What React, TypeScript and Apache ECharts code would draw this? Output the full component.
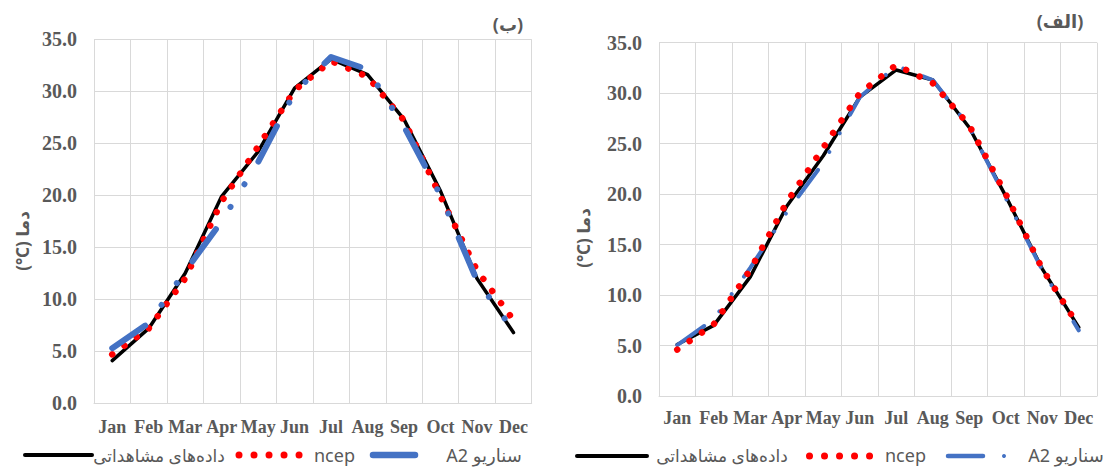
import React, { useEffect, useRef } from 'react';
import * as echarts from 'echarts';

// ---- data ----
const months = ['Jan', 'Feb', 'Mar', 'Apr', 'May', 'Jun', 'Jul', 'Aug', 'Sep', 'Oct', 'Nov', 'Dec'];

// chart (ب) – left
const obsB = [4.1, 7.2, 12.5, 19.9, 24.2, 30.3, 33.1, 31.6, 27.3, 20.4, 12.0, 6.8];
const ncepB = [4.7, 7.2, 12.0, 19.4, 24.7, 30.1, 32.9, 31.4, 27.2, 19.9, 12.8, 8.0];
const a2B = [5.3, 7.7, 12.7, 17.5, 23.2, 29.9, 33.3, 32.1, 26.6, 20.0, 11.8, 7.0];

// chart (الف) – right
const obsA = [5.1, 7.0, 11.8, 18.8, 23.8, 29.6, 32.3, 31.3, 26.6, 19.8, 12.6, 6.8];
const ncepA = [4.6, 7.1, 12.5, 19.2, 24.6, 30.0, 32.8, 31.0, 26.8, 20.0, 12.6, 6.9];
const a2A = [5.05, 7.6, 12.7, 18.2, 23.1, 29.6, 32.7, 31.3, 26.7, 19.6, 12.5, 6.5];

const yMin = 0;
const yMax = 35;
const yStep = 5;

const nameObs = 'داده‌های مشاهداتی';
const nameNcep = 'ncep';
const nameA2 = 'A2 سناریو';
const yName = '(°C) دما';
const titleB = '(ب)';
const titleA = '(الف)';

// ---- styles ----
const GREY = '#595959';
const GRID = '#d9d9d9';
const BLUE = '#4472c4';
const RED = '#ff0000';
const SANS = "'Noto Sans', 'DejaVu Sans', sans-serif";
const SERIF = "'Liberation Serif', 'Times New Roman', serif";

function txt(text: string, x: number, y: number, size: number, opts: any = {}) {
  const align = opts.align || 'center';
  return {
    type: 'text',
    x,
    y,
    rotation: opts.rotation || 0,
    silent: true,
    style: {
      text,
      fill: GREY,
      fontSize: size,
      fontFamily: opts.family || SANS,
      fontWeight: opts.weight || 'normal',
      textAlign: align,
      align,
      textVerticalAlign: 'middle',
      verticalAlign: 'middle',
    },
  };
}

function seg(x1: number, y1: number, x2: number, y2: number, stroke: string, width: number, dash?: number[]) {
  return {
    type: 'line',
    silent: true,
    shape: { x1, y1, x2, y2 },
    style: { stroke, lineWidth: width, lineDash: dash || null, lineCap: 'round' },
  };
}

export default function App() {
  const ref = useRef<HTMLDivElement>(null);

  useEffect(() => {
    const chart = echarts.init(ref.current!, null, { renderer: 'svg' });

    const xAxisBase = (gridIndex: number, margin: number) => ({
      type: 'category',
      gridIndex,
      data: months,
      boundaryGap: true,
      axisTick: { show: false },
      axisLine: { show: true, lineStyle: { color: GRID, width: 1 } },
      splitLine: { show: true, lineStyle: { color: GRID, width: 1 } },
      axisLabel: {
        interval: 0,
        margin,
        color: GREY,
        fontFamily: SERIF,
        fontWeight: 'bold',
        fontSize: 18,
      },
    });

    const yAxisBase = (gridIndex: number) => ({
      type: 'value',
      gridIndex,
      min: yMin,
      max: yMax,
      interval: yStep,
      axisLine: { show: false },
      axisTick: { show: false },
      splitLine: { show: true, lineStyle: { color: GRID, width: 1 } },
      axisLabel: {
        margin: 17,
        color: GREY,
        fontFamily: SERIF,
        fontWeight: 'bold',
        fontSize: 20,
        formatter: (v: number) => v.toFixed(1),
      },
    });

    const mk = (name: string, data: number[], idx: number, lineStyle: any, z: number) => ({
      type: 'line',
      name,
      xAxisIndex: idx,
      yAxisIndex: idx,
      data,
      symbol: 'none',
      silent: true,
      z,
      itemStyle: { color: lineStyle.color },
      lineStyle,
    });

    const obsStyle = { color: '#000000', width: 3.5, type: 'solid', cap: 'round', join: 'round' };
    const ncepStyle = { color: RED, width: 6.5, type: [0.01, 15], cap: 'round', join: 'round' };
    const a2StyleB = { color: BLUE, width: 6, type: [40, 26.6, 0.01, 26.6, 0.01, 26.6], cap: 'round', join: 'round' };
    const a2StyleA = { color: BLUE, width: 4, type: [33, 21.3, 0.01, 21.3, 0.01, 21.3], cap: 'round', join: 'round' };

    const option: any = {
      animation: false,
      backgroundColor: '#ffffff',
      grid: [
        { left: 94, top: 39.3, width: 437.7, height: 364, containLabel: false },
        { left: 659, top: 42.7, width: 438, height: 353.3, containLabel: false },
      ],
      xAxis: [xAxisBase(0, 15), xAxisBase(1, 13)],
      yAxis: [yAxisBase(0), yAxisBase(1)],
      series: [
        mk(nameObs, obsB, 0, obsStyle, 2),
        mk(nameNcep, ncepB, 0, ncepStyle, 3),
        mk(nameA2, a2B, 0, a2StyleB, 4),
        mk(nameObs + ' ', obsA, 1, obsStyle, 2),
        mk(nameA2 + ' ', a2A, 1, a2StyleA, 3),
        mk(nameNcep + ' ', ncepA, 1, ncepStyle, 4),
      ],
      graphic: [
        // titles
        txt(titleB, 508, 24, 18, { weight: 'bold' }),
        txt(titleA, 1060, 21, 18, { weight: 'bold' }),
        // y axis names
        txt(yName, 22, 241, 17, { rotation: Math.PI / 2, weight: 'bold' }),
        txt(yName, 583, 238, 17, { rotation: Math.PI / 2, weight: 'bold' }),
        // left legend
        seg(25, 455, 92, 455, '#000000', 4),
        txt(nameObs, 159, 455, 17),
        seg(239, 455, 300, 455, RED, 7, [0.01, 15]),
        txt(nameNcep, 314, 455, 18, { align: 'left' }),
        seg(373, 455, 415, 455, BLUE, 6.5),
        txt(nameA2, 484, 455, 18),
        // right legend
        seg(577, 456, 647, 456, '#000000', 4),
        txt(nameObs, 722, 455, 17),
        seg(809.5, 456, 870, 456, RED, 7, [0.01, 15]),
        txt(nameNcep, 885, 455, 18, { align: 'left' }),
        seg(948, 456, 983, 456, BLUE, 4.5),
        { type: 'circle', silent: true, shape: { cx: 1004, cy: 456, r: 2 }, style: { fill: BLUE } },
        txt(nameA2, 1066, 455, 18),
      ],
    };

    chart.setOption(option);
    return () => chart.dispose();
  }, []);

  return (
    <div
      ref={ref}
      style={{ position: 'absolute', left: 0, top: 0, width: 1110, height: 467, background: '#fff' }}
    />
  );
}
